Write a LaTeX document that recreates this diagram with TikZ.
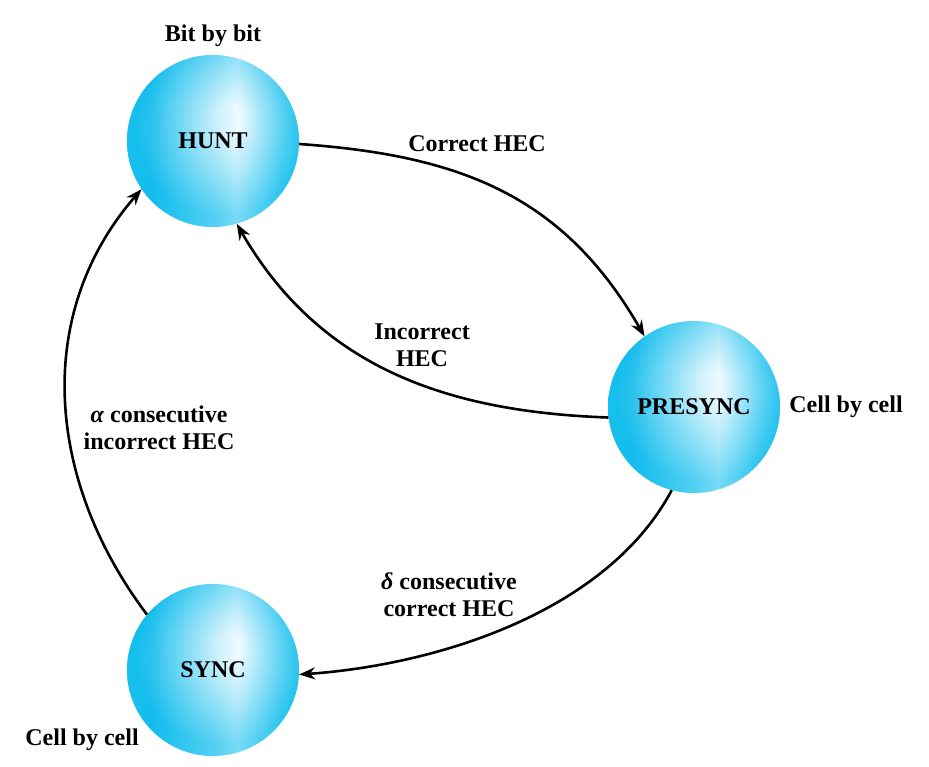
\documentclass[tikz,border=0pt]{standalone}
\usepackage{fontspec}
\setmainfont{Liberation Serif}
\usetikzlibrary{arrows.meta}
\definecolor{ballA}{RGB}{24,192,238}
\definecolor{ballB}{RGB}{14,184,233}
\definecolor{ballW}{RGB}{238,250,255}
\pgfdeclarehorizontalshading{ballshade}{100bp}{color(0bp)=(ballA); color(25bp)=(ballA); color(32bp)=(ballB); color(40bp)=(ballA!78!ballW); color(50bp)=(ballA!40!ballW); color(57bp)=(ballW); color(64bp)=(ballA!45!ballW); color(70bp)=(ballA!82!ballW); color(75bp)=(ballA); color(100bp)=(ballA)}
\pgfdeclareradialshading{ballglow}{\pgfpoint{5bp}{7bp}}{color(0bp)=(ballW); color(4bp)=(ballW); color(14bp)=(ballA!45!ballW); color(25bp)=(ballA); color(50bp)=(ballA)}
\begin{document}
\begin{tikzpicture}[x=1pt,y=-1pt,
  ball/.style={circle, minimum size=172pt, inner sep=0pt, shade, shading=ballshade,
    path picture={\shade[shading=ballglow, opacity=0.55] (path picture bounding box.south west) rectangle (path picture bounding box.north east);},
    font=\bfseries\fontsize{24}{27}\selectfont},
  lbl/.style={font=\bfseries\fontsize{24}{27}\selectfont, align=center, inner sep=0pt},
  arr/.style={line width=2.6pt, -{Stealth[length=16pt,width=12pt]}}]
\useasboundingbox (0,0) rectangle (929,766);
\node[ball] (hunt) at (213,141) {HUNT};
\node[ball] (presync) at (694,407) {PRESYNC};
\node[ball] (sync) at (213,670) {SYNC};
\node[lbl] (t1) at (213,36) {Bit by bit};
\node[lbl] (t2) at (477,144) {Correct HEC};
\node[lbl] (t3) at (422,345) {Incorrect\\HEC};
\node[lbl] (t4) at (846,407) {Cell by cell};
\node[lbl] (t5) at (159,428) {\textit{α} consecutive\\incorrect HEC};
\node[lbl] (t6) at (449,595) {\textit{δ} consecutive\\correct HEC};
\node[lbl] (t7) at (82,740) {Cell by cell};
\draw[arr] (hunt.-2) to[out=-4,in=120,looseness=1.05] (presync.125);
\draw[arr] (presync.187) to[out=178,in=-60] (hunt.-74);
\draw[arr] (presync.-105) to[out=-118,in=4,looseness=0.85] (sync.-3);
\draw[arr] (sync.140) to[out=127,in=-131] (hunt.214);
\end{tikzpicture}
\end{document}
